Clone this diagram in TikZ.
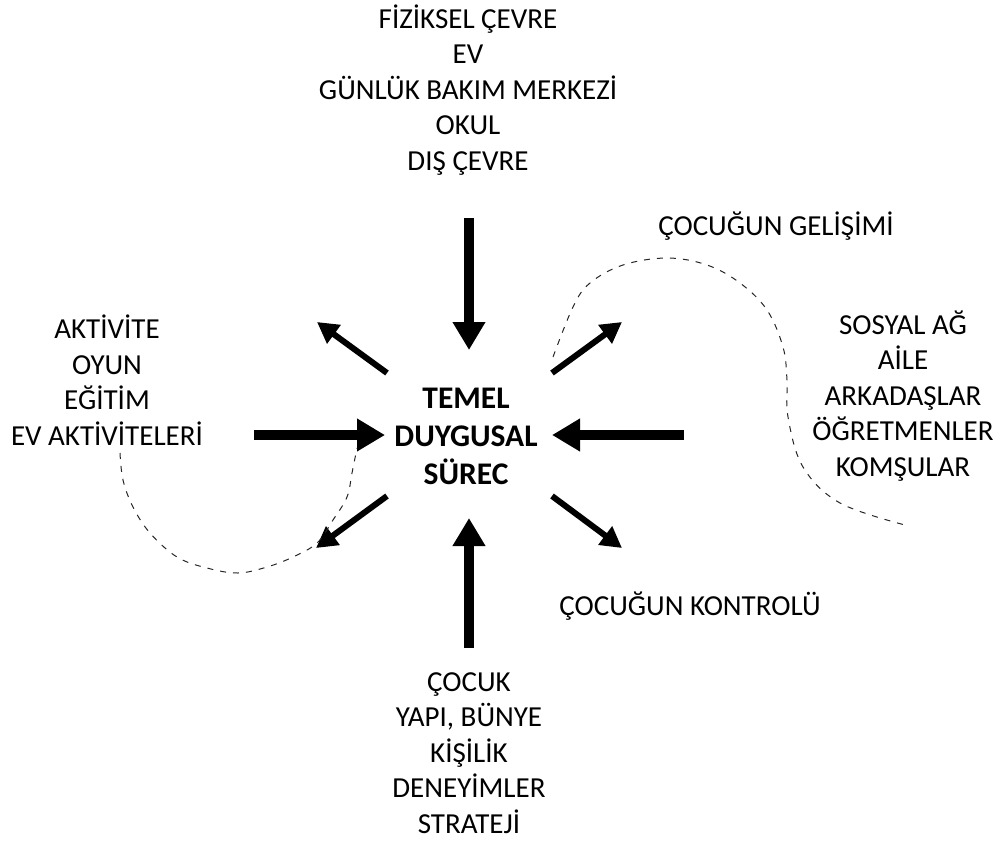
\documentclass[tikz,border=0pt]{standalone}
\usepackage{fontspec}
\setmainfont{Carlito}
\usetikzlibrary{arrows.meta}
\tikzset{
  lbl/.style={align=center, inner sep=0pt, font=\fontsize{29}{35.6}\selectfont},
  ctr/.style={align=center, inner sep=0pt, font=\fontsize{31.5}{38}\selectfont\bfseries},
  bigarrow/.style={line width=10pt, -{Triangle[width=31pt,length=28pt]}},
  smallarrow/.style={line width=6pt, -{Triangle[width=22pt,length=21pt]}},
  loopline/.style={dash pattern=on 6pt off 7pt, line width=1pt, black!85}
}
\begin{document}
\begin{tikzpicture}[x=1pt,y=-1pt]
\useasboundingbox (0,0) rectangle (1003,843);

% texts
\node[lbl] (env) at (468,90) {FİZİKSEL ÇEVRE\\EV\\GÜNLÜK BAKIM MERKEZİ\\OKUL\\DIŞ ÇEVRE};
\node[lbl] (act) at (107,380) {AKTİVİTE\\OYUN\\EĞİTİM\\EV AKTİVİTELERİ};
\node[lbl] (soc) at (903,396) {SOSYAL AĞ\\AİLE\\ARKADAŞLAR\\ÖĞRETMENLER\\KOMŞULAR};
\node[lbl] (child) at (469,753) {ÇOCUK\\YAPI, BÜNYE\\KİŞİLİK\\DENEYİMLER\\STRATEJİ};
\node[lbl] (dev) at (776,226) {ÇOCUĞUN GELİŞİMİ};
\node[lbl] (ctl) at (690,606) {ÇOCUĞUN KONTROLÜ};
\node[ctr] (core) at (466,436) {TEMEL\\DUYGUSAL\\SÜREC};

% arrow end points
\coordinate (topS) at (469,218);   \coordinate (topE) at (469,350);
\coordinate (botS) at (469,648);   \coordinate (botE) at (469,518);
\coordinate (lefS) at (254,435);   \coordinate (lefE) at (385,435);
\coordinate (rigS) at (684,435);   \coordinate (rigE) at (552,435);
\coordinate (ulS) at (387,373);    \coordinate (ulE) at (317,322);
\coordinate (urS) at (552,373);    \coordinate (urE) at (622,322);
\coordinate (llS) at (387,496);    \coordinate (llE) at (316,548);
\coordinate (lrS) at (552,496);    \coordinate (lrE) at (622,548);

\draw[bigarrow] (topS) -- (topE);
\draw[bigarrow] (botS) -- (botE);
\draw[bigarrow] (lefS) -- (lefE);
\draw[bigarrow] (rigS) -- (rigE);
\draw[smallarrow] (ulS) -- (ulE);
\draw[smallarrow] (urS) -- (urE);
\draw[smallarrow] (llS) -- (llE);
\draw[smallarrow] (lrS) -- (lrE);

% dashed loops
\draw[loopline] plot[smooth, tension=0.6] coordinates {
  (553,357) (573,307) (590,283) (623,265) (667,258) (707,265) (740,283)
  (767,310) (783,347) (787,380) (788,417) (803,467) (840,503) (905,525)};
\draw[loopline] plot[smooth, tension=0.6] coordinates {
  (120,453) (123,480) (133,507) (150,533) (177,557) (207,568) (238,573)
  (267,567) (293,557) (317,543) (333,520) (347,497) (352,473) (357,448)};
\end{tikzpicture}
\end{document}
